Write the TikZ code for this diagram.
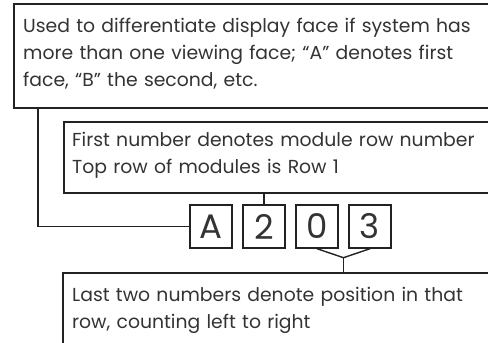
\documentclass[tikz,border=0pt]{standalone}
\usepackage{fontspec}
\setmainfont{Poppins}
\usetikzlibrary{calc}
\definecolor{ink}{HTML}{222222}
\definecolor{txt}{HTML}{333333}

\begin{document}
\begin{tikzpicture}[x=1pt,y=-1pt,line cap=round,
    panel/.style={draw=ink,line width=1.5pt,anchor=north west,inner sep=0pt},
    note/.style={text=txt,anchor=north west,inner sep=0pt,text width=470pt,align=left,
      font=\fontsize{18.8}{26.8}\selectfont},
    digit/.style={draw=ink,line width=1.4pt,minimum width=42pt,minimum height=43pt,
      inner sep=0pt,text=txt,font=\fontsize{34}{34}\selectfont}]
  \useasboundingbox (0,0) rectangle (488,343);
  \clip (0,0) rectangle (488,343);

  % the three explanation panels (they run off the right edge)
  \node[panel,minimum width=500pt,minimum height=104pt] (faceBox) at (13,3) {};
  \node[panel,minimum width=450pt,minimum height=71pt] (rowBox) at (63,121) {};
  \node[panel,minimum width=450pt,minimum height=90pt] (posBox) at (62,272) {};

  \node[note] (faceText) at (23,18) {Used to differentiate display face if system has\\
    more than one viewing face; “A” denotes first\\ face, “B” the second, etc.};
  \node[note] (rowText) at (72,132) {First number denotes module row number\\
    Top row of modules is Row 1};
  \node[note] (posText) at (72,287) {Last two numbers denote position in that\\
    row, counting left to right};

  % the code itself
  \foreach \ch [count=\i from 0] in {A,2,0,3}{
    \node[digit] (box\i) at (211+53*\i,226.5) {\ch};
  }

  % leaders
  \draw[ink,line width=1.4pt] (box0.west) -| ([xshift=25pt]faceBox.south west);
  \draw[ink,line width=1.4pt] (box1.north) -- (box1.north |- rowBox.south);
  \coordinate (apex) at ($(box2.south)!0.5!(box3.south)+(0,9)$);
  \draw[ink,line width=1.4pt] (box2.south) -- (apex) -- (box3.south);
  \draw[ink,line width=1.4pt] (apex) -- (apex |- posBox.north);
\end{tikzpicture}
\end{document}
